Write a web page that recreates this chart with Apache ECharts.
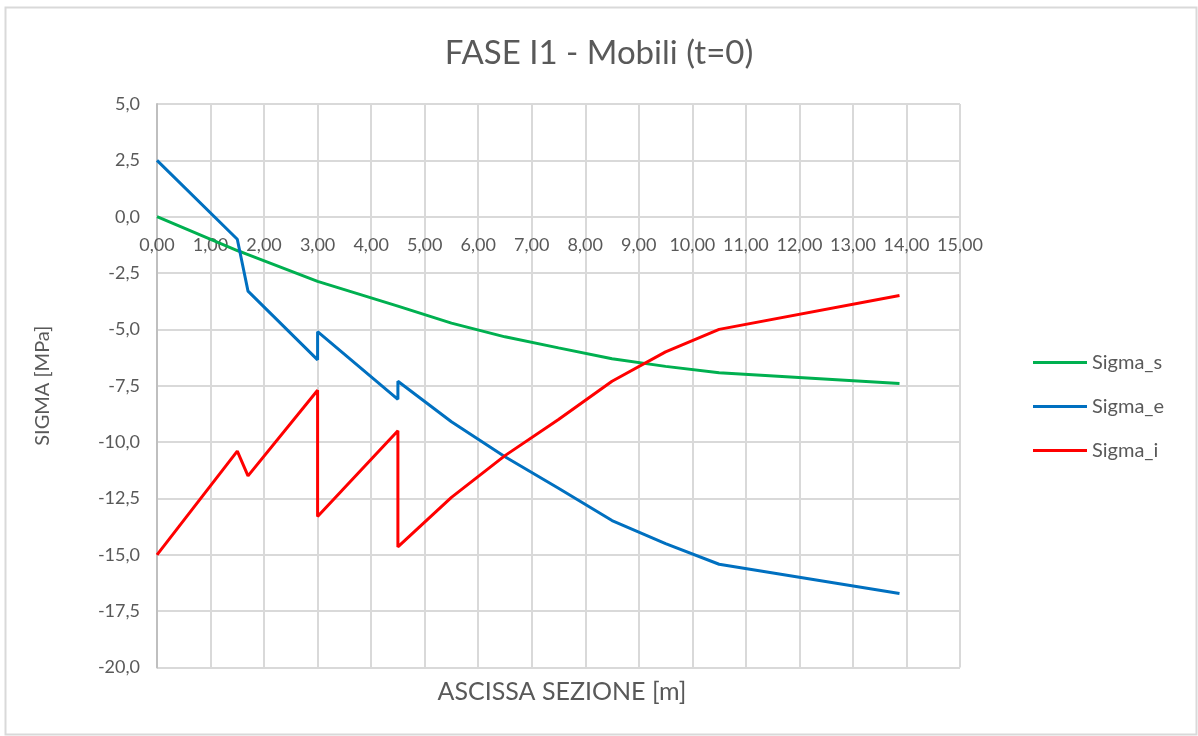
<!DOCTYPE html>
<html>
<head>
<meta charset="utf-8">
<script src="https://cdn.jsdelivr.net/npm/echarts@6/dist/echarts.min.js"></script>
<style>
  html, body { margin: 0; padding: 0; background: #ffffff; }
  #chart { width: 1198px; height: 736px; }
</style>
</head>
<body>
<div id="chart"></div>
<script>
// ---- data ----
var chartTitle = 'FASE I1 - Mobili (t=0)';
var xAxisTitle = 'ASCISSA SEZIONE [m]';
var yAxisTitle = 'SIGMA [MPa]';
var seriesNames = ['Sigma_s', 'Sigma_e', 'Sigma_i'];
var seriesColors = ['#00b050', '#0070c0', '#ff0000'];

// abscissa of the sections (m); repeated values are the jumps
var ascissa = [0, 1.5, 1.7, 3.0, 3.0, 4.5, 4.5, 5.5, 6.5, 7.5, 8.5, 9.5, 10.5, 13.87];
var sigmaS  = [0, -1.5, -1.68, -2.87, -2.87, -3.97, -3.97, -4.72, -5.33, -5.82, -6.3, -6.64, -6.92, -7.4];
var sigmaE  = [2.5, -1.0, -3.3, -6.35, -5.1, -8.1, -7.3, -9.1, -10.65, -12.05, -13.48, -14.5, -15.42, -16.72];
var sigmaI  = [-15.0, -10.4, -11.5, -7.7, -13.3, -9.5, -14.65, -12.45, -10.6, -9.0, -7.3, -6.0, -5.0, -3.5];

var xMin = 0, xMax = 15, xStep = 1;
var yMin = -20, yMax = 5, yStep = 2.5;

function pairs(xs, ys) {
  var out = [];
  for (var i = 0; i < xs.length; i++) out.push([xs[i], ys[i]]);
  return out;
}
var seriesValues = [sigmaS, sigmaE, sigmaI];

var FONT = 'Lato';
var TXT = '#595959';
var GRID_TOP = 104, GRID_H = 563.5;
// the horizontal axis crosses the vertical one at y = 0
var xAxisShift = -GRID_H * (0 - yMin) / (yMax - yMin);

var chart = echarts.init(document.getElementById('chart'), null, { renderer: 'canvas' });
chart.setOption({
  animation: false,
  backgroundColor: '#ffffff',
  title: [
    { text: chartTitle, left: 'center', top: 32,
      textStyle: { fontFamily: FONT, fontSize: 33, fontWeight: 'normal', color: TXT } },
    { text: xAxisTitle, left: 557, top: 674, textAlign: 'center',
      textStyle: { fontFamily: FONT, fontSize: 25, fontWeight: 'normal', color: TXT } }
  ],
  graphic: [
    { type: 'rect', left: 3, top: 5, shape: { width: 1191, height: 727 },
      style: { fill: 'none', stroke: '#d9d9d9', lineWidth: 2 }, silent: true }
  ],
  legend: {
    orient: 'vertical',
    left: 1028, top: 347,
    icon: 'rect',
    itemWidth: 54, itemHeight: 3,
    itemGap: 23,
    textStyle: { fontFamily: FONT, fontSize: 20, color: TXT, lineHeight: 21 },
    data: seriesNames
  },
  grid: { left: 157, top: GRID_TOP, width: 803, height: GRID_H, containLabel: false },
  xAxis: {
    type: 'value', min: xMin, max: xMax, interval: xStep,
    position: 'bottom', offset: xAxisShift,
    axisLine: { show: true, onZero: false, lineStyle: { color: '#d9d9d9', width: 2 } },
    axisTick: { show: false },
    splitLine: { show: true, lineStyle: { color: '#d9d9d9', width: 2 } },
    axisLabel: {
      show: true, margin: 19, showMinLabel: true, showMaxLabel: true,
      fontFamily: FONT, fontSize: 18, color: TXT,
      formatter: function (v) { return v.toFixed(2).replace('.', ','); }
    }
  },
  yAxis: {
    type: 'value', min: yMin, max: yMax, interval: yStep,
    name: yAxisTitle, nameLocation: 'middle', nameRotate: 90, nameGap: 104,
    nameTextStyle: { fontFamily: FONT, fontSize: 20, color: TXT },
    axisLine: { show: true, lineStyle: { color: '#bfbfbf', width: 2 } },
    axisTick: { show: false },
    splitLine: { show: true, lineStyle: { color: '#d9d9d9', width: 2 } },
    axisLabel: {
      margin: 17, fontFamily: FONT, fontSize: 18, color: TXT,
      formatter: function (v) { return (Math.abs(v) < 1e-9 ? 0 : v).toFixed(1).replace('.', ','); }
    }
  },
  series: seriesNames.map(function (name, k) {
    return {
      name: name, type: 'line', showSymbol: false, symbol: 'none',
      data: pairs(ascissa, seriesValues[k]),
      lineStyle: { color: seriesColors[k], width: 3 },
      itemStyle: { color: seriesColors[k] },
      z: 3 + k
    };
  })
});
</script>
</body>
</html>
